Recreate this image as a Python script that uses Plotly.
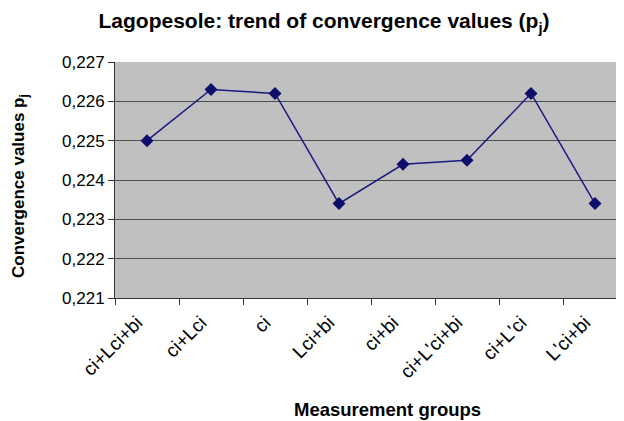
import plotly.graph_objects as go

groups = ['ci+Lci+bi', 'ci+Lci', 'ci', 'Lci+bi', 'ci+bi', "ci+L'ci+bi", "ci+L'ci", "L'ci+bi"]
values = [0.2250, 0.2263, 0.2262, 0.2234, 0.2244, 0.2245, 0.2262, 0.2234]

font = 'Liberation Sans, Arial, sans-serif'

# the page body adds an 8px offset, so the layout below is in figure pixels
left, right, top, bottom = 107, 619, 54, 290
pw, ph = right - left, bottom - top

fig = go.Figure()
fig.add_trace(go.Scatter(
    x=groups, y=values, mode='lines+markers',
    line=dict(color='#1a1a80', width=1.5),
    marker=dict(symbol='diamond', size=10, color='#0d0d6b'),
    showlegend=False,
))

fig.update_layout(
    width=624, height=421,
    paper_bgcolor='white',
    plot_bgcolor='#c0c0c0',
    margin=dict(l=left, r=624 - right, t=top, b=421 - bottom),
    separators=', ',
    font=dict(family=font, color='black'),
    title=dict(text='<b>Lagopesole: trend of convergence values (p<sub>j</sub>)</b>',
               x=316 / 624, xanchor='center', xref='container',
               y=1 - 13 / 421, yanchor='middle',
               font=dict(size=21)),
    xaxis=dict(
        type='category', range=[-0.5, 7.5], automargin=False,
        tickson='boundaries', ticks='outside', ticklen=6, tickcolor='#333',
        tickangle=-45, tickfont=dict(size=19),
        ticklabelshift=-10, ticklabelstandoff=5,
        showline=True, linecolor='#333', linewidth=1,
        showgrid=False,
    ),
    yaxis=dict(
        range=[0.221, 0.227], dtick=0.001, tickformat='.3f', automargin=False,
        ticks='outside', ticklen=6, tickcolor='#333',
        tickfont=dict(size=17),
        showline=True, linecolor='#333', linewidth=1,
        showgrid=True, gridcolor='#4d4d4d', gridwidth=1.2,
        zeroline=False,
    ),
)

# axis titles placed as annotations
fig.add_annotation(text='<b>Measurement groups</b>', xref='paper', yref='paper',
                   x=(379 - left) / pw, y=-(401 - bottom) / ph,
                   xanchor='center', yanchor='middle', showarrow=False,
                   font=dict(size=18.5))
fig.add_annotation(text='<b>Convergence values p<sub>j</sub></b>', xref='paper', yref='paper',
                   x=-(left - 12) / pw, y=(bottom - 178) / ph, textangle=-90,
                   xanchor='center', yanchor='middle', showarrow=False,
                   font=dict(size=17))

fig.write_html('out.html')
